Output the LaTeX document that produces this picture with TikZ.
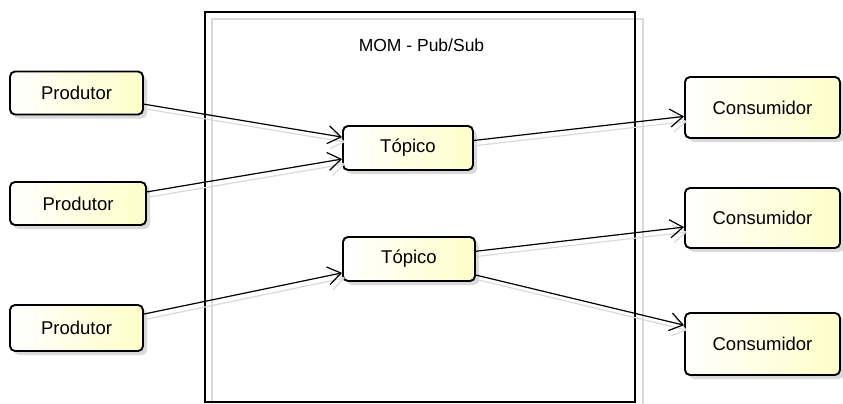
\documentclass[tikz,border=0pt]{standalone}
\usepackage{fontspec}
\setmainfont{Liberation Sans}
\usetikzlibrary{arrows.meta,shadows}
\definecolor{ylw}{RGB}{254,254,200}
\definecolor{shd}{RGB}{218,218,218}
\tikzset{
  box/.style={draw=black, line width=1.9pt, rounded corners=5pt,
    left color=white, right color=ylw, inner sep=0pt,
    font=\fontsize{18.5}{20}\selectfont,
    drop shadow={shadow xshift=4pt, shadow yshift=-4pt, fill=shd, opacity=1}},
  conn/.style={line width=1.2pt, -{Straight Barb[length=13pt,width=18pt,line width=1.2pt]}},
  connshadow/.style={draw=shd, line width=1.2pt, -{Straight Barb[length=13pt,width=18pt,line width=1.2pt]}},
}
\begin{document}
\begin{tikzpicture}[x=1pt,y=-1pt]
\useasboundingbox (0,0) rectangle (843,404);
% container
\draw[shd, line width=1.2pt] (212,19) rectangle (643,409);
\draw[black, line width=1.3pt] (205,12) rectangle (635,402);
\node[font=\fontsize{17.5}{19}\selectfont] (title) at (421.5,45) {MOM - Pub/Sub};
% nodes
\node[box, minimum width=133pt, minimum height=43pt] (p1) at (76.5,93) {Produtor};
\node[box, minimum width=136pt, minimum height=43pt] (p2) at (78,203.5) {Produtor};
\node[box, minimum width=133pt, minimum height=46pt] (p3) at (76.5,328) {Produtor};
\node[box, minimum width=130pt, minimum height=44pt] (t1) at (408,148) {Tópico};
\node[box, minimum width=132pt, minimum height=44pt] (t2) at (409,259) {Tópico};
\node[box, minimum width=155pt, minimum height=61pt] (c1) at (762.5,107.5) {Consumidor};
\node[box, minimum width=155pt, minimum height=60pt] (c2) at (762.5,218) {Consumidor};
\node[box, minimum width=155pt, minimum height=62pt] (c3) at (762.5,344) {Consumidor};
% connector shadows
\begin{scope}[transform canvas={shift={(3pt,-5pt)}}]
\draw[connshadow] (p1) -- (t1);
\draw[connshadow] (p2) -- (t1);
\draw[connshadow] (p3) -- (t2);
\draw[connshadow] (t1) -- (c1);
\draw[connshadow] (t2) -- (c2);
\draw[connshadow] (t2) -- (c3);
\end{scope}
% connectors
\draw[conn] (p1) -- (t1);
\draw[conn] (p2) -- (t1);
\draw[conn] (p3) -- (t2);
\draw[conn] (t1) -- (c1);
\draw[conn] (t2) -- (c2);
\draw[conn] (t2) -- (c3);
\end{tikzpicture}
\end{document}
